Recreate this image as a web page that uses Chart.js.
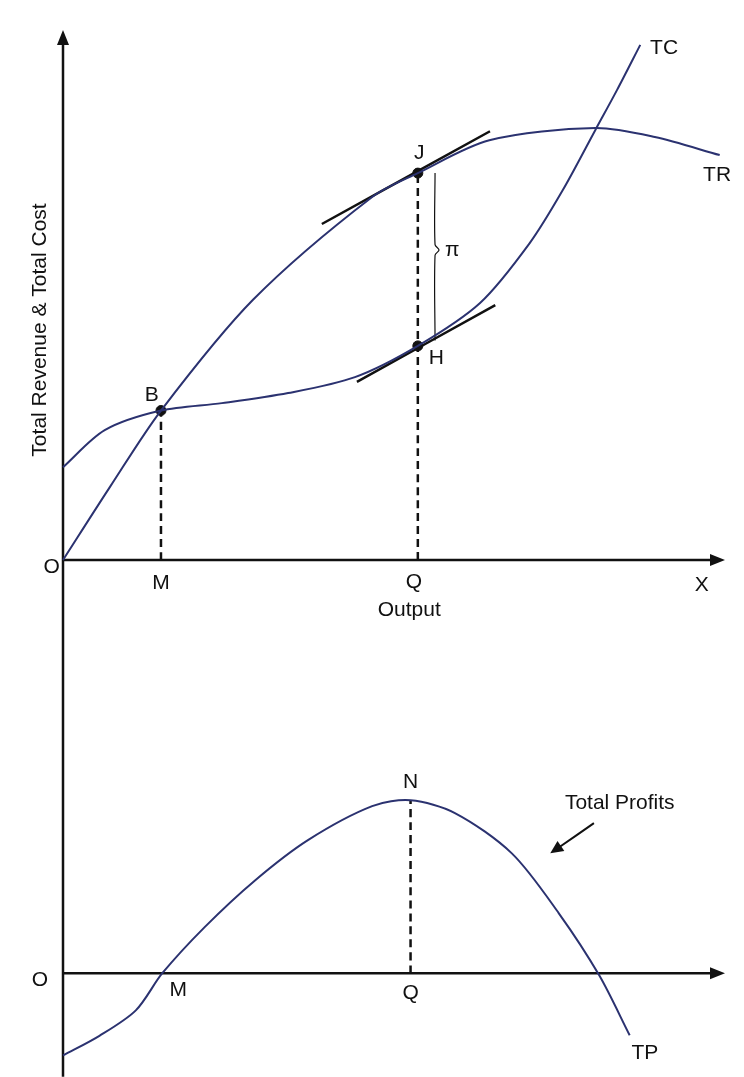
<!DOCTYPE html>
<html>
<head>
<meta charset="utf-8">
<script src="https://cdn.jsdelivr.net/npm/chart.js@4"></script>
<style>
body { margin: 0; background: #fff; width: 744px; height: 1077px; position: relative; overflow: hidden; }
canvas { position: absolute; left: 0; }
#top-chart { top: 0; }
#profit-chart { top: 640px; }
</style>
</head>
<body>
<canvas id="top-chart" width="744" height="640"></canvas>
<canvas id="profit-chart" width="744" height="437"></canvas>
<script>
// output runs 0 (O) .. 10 (arrow tip), values in same units
const trX = [0, 0.71, 1.48, 2.87, 4.67, 5.36, 6.44, 8.04, 8.94, 9.92];
const trY = [0, 1.38, 2.82, 4.91, 6.85, 7.30, 7.92, 8.15, 7.98, 7.64];
const tcX = [0, 0.63, 1.48, 2.40, 3.40, 4.41, 5.36, 6.30, 7.05, 7.55, 8.04, 8.37, 8.72];
const tcY = [1.75, 2.45, 2.82, 2.96, 3.15, 3.45, 4.04, 4.85, 5.98, 6.98, 8.11, 8.87, 9.72];
const tpX = [0, 0.55, 1.1, 1.5, 2.14, 2.90, 3.70, 4.67, 5.25, 5.92, 6.78, 7.49, 8.10, 8.56];
const tpY = [-1.55, -1.18, -0.70, 0, 0.87, 1.75, 2.51, 3.15, 3.26, 3.02, 2.26, 1.13, -0.04, -1.17];

const outM = 1.48;
const outQ = 5.36;
const outQProfit = 5.25;
const pointB = 2.82, pointJ = 7.30, pointH = 4.04, pointN = 3.26;

const tangentJX = [3.91, 6.45], tangentJY = [6.34, 8.09];
const tangentHX = [4.44, 6.53], tangentHY = [3.36, 4.81];

const navy = '#2b3270';
const font = '21px "Liberation Sans", Arial, sans-serif';

function pts(xs, ys) {
    return xs.map((x, i) => ({ x: x, y: ys[i] }));
}

function line(data, color, width, dash) {
    return {
        type: 'line', data: data, borderColor: color, borderWidth: width,
        borderDash: dash || [], pointRadius: 0, fill: false, clip: false,
        tension: 0.3
    };
}

const sketch = {
    id: 'sketch',
    afterDatasetsDraw(chart, args, opts) {
        const ctx = chart.ctx;
        const sx = chart.scales.x, sy = chart.scales.y;
        ctx.save();
        ctx.fillStyle = '#111';
        (opts.arrows || []).forEach(a => {
            const x0 = sx.getPixelForValue(a[0]), y0 = sy.getPixelForValue(a[1]);
            const x1 = sx.getPixelForValue(a[2]), y1 = sy.getPixelForValue(a[3]);
            const ang = Math.atan2(y1 - y0, x1 - x0);
            const len = a[4] || 15, w = a[5] || 6;
            ctx.beginPath();
            ctx.moveTo(x1, y1);
            ctx.lineTo(x1 - len * Math.cos(ang) + w * Math.sin(ang), y1 - len * Math.sin(ang) - w * Math.cos(ang));
            ctx.lineTo(x1 - len * Math.cos(ang) - w * Math.sin(ang), y1 - len * Math.sin(ang) + w * Math.cos(ang));
            ctx.closePath();
            ctx.fill();
        });
        ctx.font = font;
        ctx.textAlign = 'center';
        ctx.textBaseline = 'middle';
        (opts.labels || []).forEach(l => {
            const x = sx.getPixelForValue(l[1]), y = sy.getPixelForValue(l[2]);
            ctx.save();
            ctx.translate(x, y);
            if (l[3]) ctx.rotate(-Math.PI / 2);
            ctx.fillText(l[0], 0, 0);
            ctx.restore();
        });
        ctx.restore();
    }
};

const hidden = { display: false };

new Chart(document.querySelector('#top-chart').getContext('2d'), {
    type: 'scatter',
    data: {
        datasets: [
            line(pts(trX, trY), navy, 2),
            line(pts(tcX, tcY), navy, 2),
            line(pts(tangentJX, tangentJY), '#111', 2.5),
            line(pts(tangentHX, tangentHY), '#111', 2.5),
            line([{ x: outM, y: 0 }, { x: outM, y: pointB }], '#111', 2.5, [8, 5]),
            line([{ x: outQ, y: 0 }, { x: outQ, y: pointJ }], '#111', 2.5, [8, 5]),
            line([{ x: 5.62, y: pointJ }, { x: 5.62, y: 5.95 }, { x: 5.68, y: 5.85 }, { x: 5.62, y: 5.75 }, { x: 5.62, y: pointH + 0.1 }], '#111', 1.2),
            line([{ x: 0, y: 0 }, { x: 9.8, y: 0 }], '#111', 2.5),
            line([{ x: 0, y: -1.6 }, { x: 0, y: 9.8 }], '#111', 2.5),
            {
                type: 'scatter',
                data: [{ x: outM, y: pointB }, { x: outQ, y: pointJ }, { x: outQ, y: pointH }],
                pointRadius: 5, pointBackgroundColor: '#111', pointBorderColor: '#111'
            }
        ]
    },
    options: {
        responsive: false,
        animation: false,
        layout: { padding: { left: 63, right: 19, top: 30, bottom: 80 } },
        scales: {
            x: { type: 'linear', min: 0, max: 10, display: false },
            y: { type: 'linear', min: 0, max: 10, display: false }
        },
        plugins: {
            legend: hidden,
            tooltip: { enabled: false },
            sketch: {
                arrows: [[9.5, 0, 10, 0], [0, 9.5, 0, 10]],
                labels: [
                    ['O', -0.17, -0.13], ['M', outM, -0.43], ['Q', 5.3, -0.42],
                    ['Output', 5.23, -0.94], ['X', 9.65, -0.47],
                    ['B', 1.34, 3.11], ['J', 5.38, 7.68], ['H', 5.64, 3.81],
                    ['TC', 9.08, 9.66], ['TR', 9.88, 7.26], ['\u03c0', 5.88, 5.85],
                    ['Total Revenue & Total Cost', -0.35, 4.34, true]
                ]
            }
        }
    },
    plugins: [sketch]
});

new Chart(document.querySelector('#profit-chart').getContext('2d'), {
    type: 'scatter',
    data: {
        datasets: [
            line(pts(tpX, tpY), navy, 2),
            line([{ x: outQProfit, y: 0 }, { x: outQProfit, y: pointN }], '#111', 2.5, [8, 5]),
            line([{ x: 0, y: 0 }, { x: 9.8, y: 0 }], '#111', 2.5),
            line([{ x: 0, y: -1.95 }, { x: 0, y: 6.4 }], '#111', 2.5),
            line([{ x: 8.02, y: 2.83 }, { x: 7.5, y: 2.38 }], '#111', 2)
        ]
    },
    options: {
        responsive: false,
        animation: false,
        layout: { padding: { left: 63, right: 19, top: 15, bottom: 3 } },
        scales: {
            x: { type: 'linear', min: 0, max: 10, display: false },
            y: { type: 'linear', min: -1.9, max: 6, display: false }
        },
        plugins: {
            legend: hidden,
            tooltip: { enabled: false },
            sketch: {
                arrows: [[9.5, 0, 10, 0], [8.02, 2.83, 7.36, 2.26, 13, 6]],
                labels: [
                    ['O', -0.35, -0.13], ['M', 1.74, -0.32], ['Q', outQProfit, -0.38],
                    ['N', outQProfit, 3.6], ['TP', 8.79, -1.51], ['Total Profits', 8.41, 3.2]
                ]
            }
        }
    },
    plugins: [sketch]
});
</script>
</body>
</html>
